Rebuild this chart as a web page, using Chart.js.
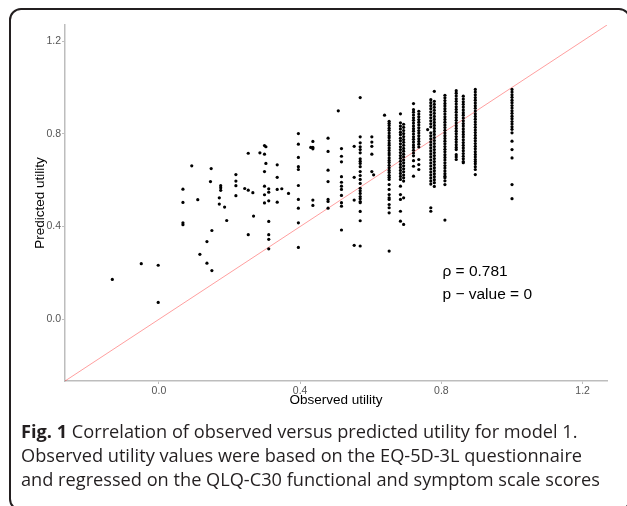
<!DOCTYPE html>
<html>
<head>
<meta charset="utf-8">
<script src="https://cdn.jsdelivr.net/npm/chart.js@4/dist/chart.umd.min.js"></script>
<style>
  html, body { margin: 0; padding: 0; background: #fff; width: 627px; height: 506px; overflow: hidden; }
  #frame { position: absolute; left: 9px; top: 8px; width: 622px; height: 503px; box-sizing: border-box;
           border: 2px solid #231f20; border-radius: 12px; }
  #chartBox { position: absolute; left: 0; top: 0; width: 627px; height: 420px; }
  #caption { position: absolute; left: 21px; top: 419px; font-family: "Open Sans", sans-serif; font-size: 18.2px;
             line-height: 24px; color: #231f20; white-space: nowrap; }
  #caption b { font-weight: 700; }
</style>
</head>
<body>
<div id="frame"></div>
<div id="chartBox"><canvas id="c" width="627" height="420"></canvas></div>
<div id="caption"><b>Fig. 1</b> Correlation of observed versus predicted utility for model 1.<br>Observed utility values were based on the EQ-5D-3L questionnaire<br>and regressed on the QLQ-C30 functional and symptom scale scores</div>
<script>
// ---- data ----
const axisMin = -0.266;
const axisMax = 1.269;
const tickValues = [0.0, 0.4, 0.8, 1.2];
const xTitle = 'Observed utility';
const yTitle = 'Predicted utility';
const annotationLines = ['\u03c1 = 0.781', 'p \u2212 value = 0'];

// scattered single observations
const looseObserved = [0.093,0.148,0.068,0.146,0.218,0.218,0.218,0.175,0.175,0.175,0.218,0.243,0.068,0.110,0.171,0.171,0.186,0.068,0.068,0.192,0.150,0.136,0.116,0.136,0.150,-0.050,-0.002,-0.132,-0.002,
  0.253,0.286,0.253,0.266,0.268,0.253,0.299,0.303,0.299,0.303,0.299,0.299,0.311,0.311,0.299,0.311,0.299,0.311,0.311,0.311,0.311,
  0.335,0.335,0.335,0.335,0.348,0.367,0.436,0.436,0.430,0.436,0.436,0.436,0.508,0.608,0.639,0.761];
const loosePredicted = [0.662,0.650,0.561,0.594,0.624,0.596,0.576,0.576,0.567,0.556,0.533,0.564,0.504,0.516,0.524,0.497,0.484,0.416,0.408,0.426,0.383,0.335,0.280,0.242,0.210,0.240,0.233,0.172,0.073,
  0.716,0.718,0.557,0.546,0.445,0.365,0.749,0.744,0.712,0.672,0.637,0.574,0.563,0.548,0.537,0.511,0.502,0.422,0.365,0.345,0.304,
  0.666,0.612,0.560,0.505,0.563,0.543,0.767,0.741,0.741,0.735,0.514,0.491,0.899,0.623,0.880,0.818];

// observed utility levels with several patients stacked vertically
const colObserved = [0.395,0.479,0.517,0.553,0.570,0.603,0.652,0.684,0.693,0.721,0.736,0.770,0.780,0.810,0.842,0.862,0.896,1.000];
const colPredicted = [
  [0.801,0.755,0.698,0.658,0.646,0.577,0.517,0.479,0.416,0.310],
  [0.781,0.724,0.643,0.594,0.517,0.508,0.479],
  [0.736,0.703,0.679,0.615,0.591,0.574,0.560,0.534,0.503,0.488,0.385],
  [0.746,0.612,0.514,0.319],
  [0.956,0.787,0.761,0.744,0.732,0.718,0.692,0.682,0.672,0.658,0.637,0.620,0.603,0.586,0.565,0.554,0.543,0.529,0.520,0.508,0.503,0.465,0.425,0.316],
  [0.787,0.764,0.746,0.712,0.637],
  [0.854,0.845,0.836,0.824,0.815,0.803,0.792,0.783,0.771,0.760,0.751,0.739,0.728,0.717,0.708,0.696,0.685,0.676,0.664,0.653,0.642,0.633,0.621,0.612,0.603,0.581,0.560,0.538,0.524,0.517,0.495,0.481,0.459,0.294],
  [0.886,0.847,0.833,0.821,0.807,0.796,0.781,0.770,0.757,0.744,0.732,0.719,0.706,0.694,0.681,0.668,0.655,0.642,0.629,0.616,0.603,0.574,0.538,0.517,0.466,0.423],
  [0.841,0.828,0.814,0.801,0.788,0.775,0.763,0.750,0.737,0.725,0.712,0.700,0.687,0.675,0.662,0.649,0.636,0.622,0.610,0.596,0.524,0.409],
  [0.930,0.904,0.893,0.881,0.869,0.858,0.846,0.834,0.822,0.811,0.799,0.787,0.776,0.764,0.752,0.741,0.729,0.717,0.705,0.684,0.660,0.617],
  [0.897,0.885,0.873,0.861,0.850,0.838,0.826,0.814,0.803,0.791,0.779,0.767,0.755,0.743,0.689,0.667,0.646],
  [0.947,0.934,0.921,0.908,0.895,0.882,0.869,0.856,0.843,0.830,0.804,0.791,0.778,0.765,0.752,0.739,0.726,0.713,0.700,0.687,0.674,0.661,0.648,0.635,0.622,0.609,0.596,0.583,0.481,0.466],
  [0.983,0.940,0.927,0.914,0.901,0.888,0.875,0.862,0.849,0.836,0.823,0.810,0.797,0.784,0.771,0.758,0.745,0.732,0.719,0.706,0.693,0.680,0.667,0.654,0.641,0.628,0.615,0.602,0.589,0.573],
  [0.966,0.955,0.943,0.931,0.920,0.908,0.897,0.885,0.873,0.862,0.850,0.838,0.827,0.815,0.803,0.792,0.780,0.768,0.757,0.745,0.733,0.722,0.710,0.698,0.687,0.675,0.663,0.652,0.640,0.628,0.617,0.610,0.597,0.581,0.428],
  [0.986,0.975,0.963,0.951,0.940,0.928,0.916,0.905,0.893,0.881,0.870,0.858,0.846,0.835,0.823,0.811,0.800,0.788,0.776,0.765,0.753,0.741,0.732,0.710,0.700,0.689],
  [0.962,0.950,0.938,0.927,0.915,0.903,0.891,0.880,0.868,0.856,0.844,0.833,0.821,0.809,0.797,0.786,0.774,0.762,0.750,0.739,0.727,0.715,0.703,0.692,0.680,0.675],
  [0.991,0.980,0.968,0.956,0.945,0.933,0.921,0.910,0.898,0.886,0.875,0.863,0.851,0.840,0.828,0.816,0.805,0.793,0.781,0.770,0.758,0.746,0.735,0.723,0.711,0.700,0.689,0.680,0.671,0.658,0.646,0.624],
  [0.991,0.980,0.968,0.957,0.945,0.934,0.922,0.911,0.899,0.888,0.876,0.865,0.853,0.842,0.830,0.819,0.804,0.768,0.732,0.696,0.581,0.520]
];
const annotationAt = { x: 0.803, y: [0.207, 0.108] };

// ---- build datasets ----
const points = [];
looseObserved.forEach((x, i) => points.push({ x: x, y: loosePredicted[i] }));
colObserved.forEach((x, i) => colPredicted[i].forEach(y => points.push({ x: x, y: y })));

const annotationPlugin = {
  id: 'annot',
  afterDatasetsDraw(chart) {
    const ctx = chart.ctx, xs = chart.scales.x, ys = chart.scales.y;
    ctx.save();
    ctx.fillStyle = '#000';
    ctx.font = '15.5px "Liberation Sans", Arial, sans-serif';
    ctx.textAlign = 'left';
    ctx.textBaseline = 'middle';
    annotationLines.forEach((t, i) => ctx.fillText(t, xs.getPixelForValue(annotationAt.x), ys.getPixelForValue(annotationAt.y[i])));
    ctx.restore();
  }
};

const tickFont = { family: '"Liberation Sans", Arial, sans-serif', size: 10.5 };
const titleFont = { family: '"Liberation Sans", Arial, sans-serif', size: 13.5 };

function axis(title, fitFn) {
  return {
    type: 'linear', min: axisMin, max: axisMax,
    afterBuildTicks: s => { s.ticks = tickValues.map(v => ({ value: v })); },
    afterFit: fitFn,
    ticks: { color: '#555', font: tickFont, padding: 1, callback: v => Number(v).toFixed(1) },
    grid: { drawOnChartArea: false, drawTicks: true, tickLength: 3, tickColor: '#bdbdbd', tickWidth: 1 },
    border: { display: true, color: '#bdbdbd', width: 1.5 },
    title: { display: true, text: title, color: '#000', font: titleFont, padding: { top: 4, bottom: 4 } }
  };
}

new Chart(document.getElementById('c'), {
  type: 'scatter',
  data: {
    datasets: [
      { type: 'line', data: [{ x: axisMin, y: axisMin }, { x: axisMax, y: axisMax }], borderColor: 'rgba(255,0,0,0.38)', borderWidth: 1, pointRadius: 0, order: 2 },
      { data: points, backgroundColor: '#000', borderWidth: 0, pointRadius: 1.6, pointHoverRadius: 1.6, order: 1 }
    ]
  },
  options: {
    responsive: false,
    animation: false,
    events: [],
    layout: { padding: { left: 28, right: 20, top: 25, bottom: 8 } },
    plugins: { legend: { display: false }, tooltip: { enabled: false } },
    scales: {
      x: axis(xTitle, s => { s.height = 31; }),
      y: axis(yTitle, s => { s.width = 37; })
    }
  },
  plugins: [annotationPlugin]
});
</script>
</body>
</html>
